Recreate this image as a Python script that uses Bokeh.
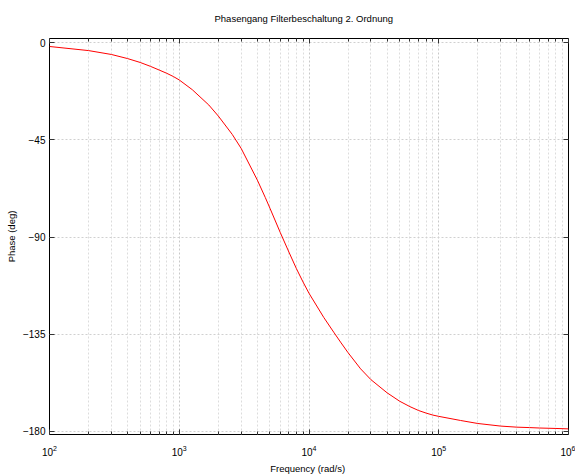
from bokeh.plotting import figure
from bokeh.models import Range1d, FixedTicker, LogAxis, LinearAxis
from bokeh.embed import file_html
from bokeh.resources import INLINE

# Values
frequency_rad_s = [100, 200, 300, 400, 500, 600, 700, 800, 900, 1000,
                   1260, 1690, 2000, 2560, 3000, 4000, 4600, 5000, 6000, 7000,
                   8000, 9000, 10000, 13000, 15500, 17500, 20000, 25000, 30000, 40000,
                   50000, 60000, 70000, 80000, 90000, 100000, 147000, 200000, 300000, 400000,
                   500000, 600000, 800000, 1000000]
phase_deg = [-1.7, -3.6, -5.4, -7.3, -9.1, -10.9, -12.6, -14.1, -15.6, -17.2,
             -21.7, -28.8, -33.9, -42.4, -48.9, -63.6, -71.6, -76.6, -87.8, -96.9,
             -104.6, -110.8, -116.0, -127.2, -134.0, -138.6, -143.5, -151.0, -156.0, -162.1,
             -166.0, -168.5, -170.3, -171.5, -172.4, -173.0, -174.9, -176.3, -177.5, -178.0,
             -178.2, -178.4, -178.6, -178.8]

x_decades = [1e2, 1e3, 1e4, 1e5, 1e6]
minor_multipliers = [2, 3, 4, 5, 6, 7, 8, 9]
y_ticks = [-180, -135, -90, -45, 0]

title_text = "Phasengang Filterbeschaltung 2. Ordnung"
x_label = "Frequency  (rad/s)"
y_label = "Phase (deg)"

FONT = "Liberation Sans"

x_minor = [m * d for d in x_decades[:-1] for m in minor_multipliers]

p = figure(width=575, height=476, x_axis_type="log",
           x_range=Range1d(1e2, 1e6), y_range=Range1d(-181.4, 2.0),
           output_backend="svg", toolbar_location=None, title=title_text,
           min_border_left=49, min_border_right=7, min_border_top=38,
           min_border_bottom=42)

p.background_fill_color = "white"
p.border_fill_color = "white"
p.outline_line_color = "#000000"
p.outline_line_width = 1

p.title.align = "left"
p.title.offset = 165
p.title.vertical_align = "top"
p.title.text_font = FONT
p.title.text_font_size = "9.5px"
p.title.text_font_style = "normal"
p.title.text_color = "#000000"
p.title.standoff = 25

xt = FixedTicker(ticks=x_decades, minor_ticks=x_minor)
yt = FixedTicker(ticks=y_ticks, minor_ticks=[])

xa = p.xaxis[0]
xa.ticker = xt
xa.axis_label = x_label
ya = p.yaxis[0]
ya.ticker = yt
ya.axis_label = y_label

for ax in (xa, ya):
    ax.axis_line_color = None
    ax.major_tick_in = 5
    ax.major_tick_out = 0
    ax.minor_tick_in = 3
    ax.minor_tick_out = 0
    ax.major_tick_line_color = "#333333"
    ax.minor_tick_line_color = "#333333"
    ax.major_label_text_font = FONT
    ax.major_label_text_font_size = "10px"
    ax.major_label_text_color = "#000000"
    ax.axis_label_text_font = FONT
    ax.axis_label_text_font_size = "9.5px"
    ax.axis_label_text_font_style = "normal"
    ax.axis_label_text_color = "#000000"

xa.major_label_standoff = 10
xa.axis_label_standoff = 4
ya.major_label_standoff = 4
ya.axis_label_standoff = 3

top_axis = LogAxis(ticker=xt, axis_line_color=None, major_tick_in=5, major_tick_out=0,
                   minor_tick_in=3, minor_tick_out=0, major_label_text_font_size="1px",
                   major_label_text_alpha=0, major_label_standoff=0,
                   major_tick_line_color="#333333", minor_tick_line_color="#333333")
right_axis = LinearAxis(ticker=yt, axis_line_color=None, major_tick_in=5, major_tick_out=0,
                        minor_tick_in=0, minor_tick_out=0, major_label_text_font_size="1px",
                        major_label_text_alpha=0, major_label_standoff=0,
                        major_tick_line_color="#333333")
p.add_layout(top_axis, "above")
p.add_layout(right_axis, "right")

p.xgrid.grid_line_color = "#c8c8c8"
p.xgrid.grid_line_dash = "2 2"
p.xgrid.minor_grid_line_color = "#dcdcdc"
p.xgrid.minor_grid_line_dash = "2 2"
p.ygrid.grid_line_color = "#d0d0d0"
p.ygrid.grid_line_dash = "2 2"

p.line(frequency_rad_s, phase_deg, line_color="#ff0000", line_width=1)

open("out.html", "w").write(file_html(p, INLINE))
